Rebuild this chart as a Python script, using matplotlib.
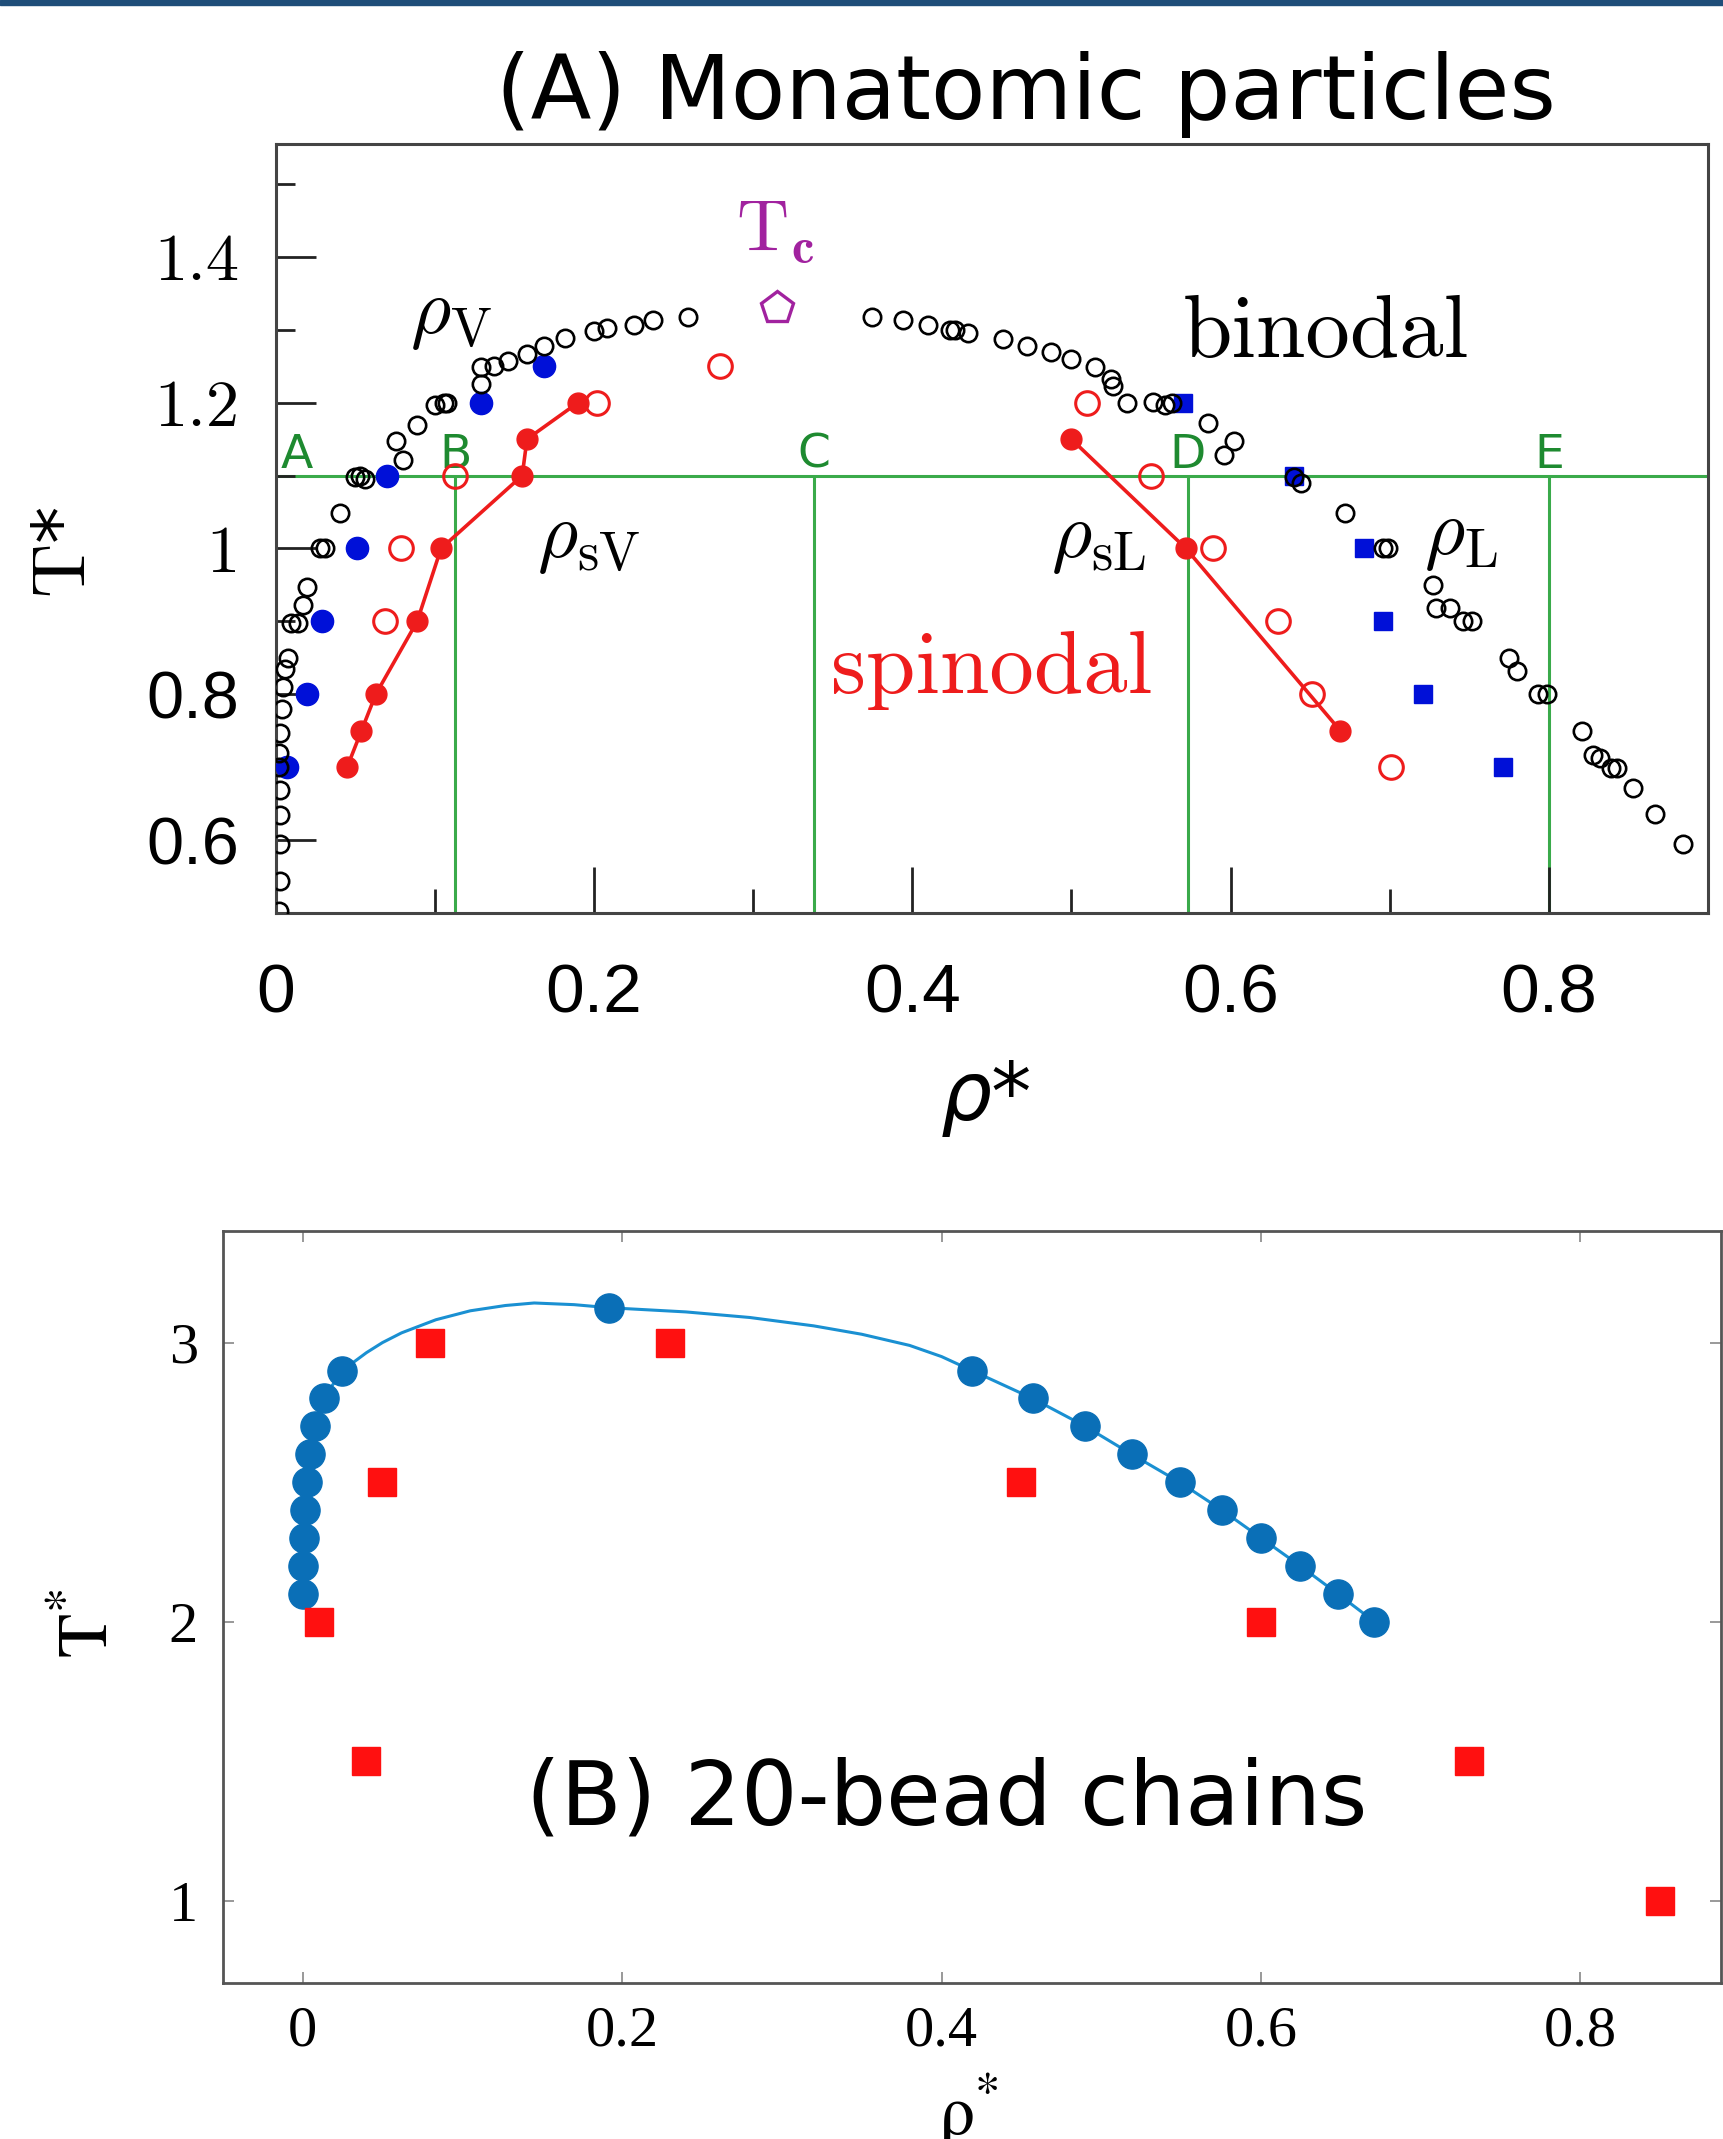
import matplotlib
matplotlib.use("Agg")
import matplotlib.pyplot as plt
from matplotlib.patches import Rectangle

# ---------------- Panel A: monatomic particles ----------------
# binodal (open black circles)
bin_rho = [0.002, 0.003, 0.003, 0.003, 0.003, 0.002, 0.002, 0.003, 0.004, 0.005, 0.006,
           0.008, 0.010, 0.014, 0.017, 0.020, 0.028, 0.031, 0.0405, 0.050, 0.053, 0.056,
           0.076, 0.080, 0.089, 0.100, 0.106, 0.108, 0.129, 0.129, 0.137, 0.146, 0.158,
           0.169, 0.182, 0.200, 0.208, 0.225, 0.237, 0.259,
           0.375, 0.394, 0.410, 0.424, 0.427, 0.435, 0.457, 0.472, 0.487, 0.500, 0.515,
           0.525, 0.526, 0.535, 0.551, 0.559, 0.563, 0.586, 0.602, 0.596, 0.640, 0.644,
           0.672, 0.696, 0.699, 0.727, 0.729, 0.738, 0.746, 0.752, 0.775, 0.780, 0.793,
           0.799, 0.821, 0.828, 0.832, 0.839, 0.843, 0.853, 0.867, 0.884]
bin_T = [0.503, 0.544, 0.594, 0.635, 0.668, 0.700, 0.720, 0.747, 0.780, 0.810, 0.835,
         0.850, 0.898, 0.898, 0.922, 0.947, 1.000, 1.000, 1.048, 1.098, 1.100, 1.096,
         1.147, 1.122, 1.170, 1.197, 1.200, 1.200, 1.226, 1.249, 1.251, 1.257, 1.267,
         1.278, 1.289, 1.298, 1.303, 1.307, 1.313, 1.318,
         1.318, 1.314, 1.307, 1.300, 1.300, 1.296, 1.287, 1.278, 1.269, 1.260, 1.249,
         1.233, 1.223, 1.199, 1.201, 1.197, 1.200, 1.172, 1.148, 1.128, 1.098, 1.090,
         1.048, 1.000, 1.000, 0.950, 0.919, 0.919, 0.900, 0.900, 0.850, 0.832, 0.800,
         0.800, 0.750, 0.717, 0.713, 0.699, 0.699, 0.672, 0.636, 0.594]

# spinodal, vapour side (filled red, joined)
sv_rho = [0.045, 0.054, 0.063, 0.089, 0.104, 0.155, 0.158, 0.190]
sv_T = [0.70, 0.75, 0.80, 0.90, 1.00, 1.10, 1.15, 1.20]
# spinodal, liquid side (filled red, joined)
sl_rho = [0.500, 0.572, 0.669]
sl_T = [1.15, 1.00, 0.75]
# open red circles
ro_rho = [0.069, 0.079, 0.113, 0.202, 0.279, 0.510, 0.550, 0.589, 0.630, 0.651, 0.701]
ro_T = [0.90, 1.00, 1.10, 1.20, 1.25, 1.20, 1.10, 1.00, 0.90, 0.80, 0.70]
# blue filled circles (vapour) and squares (liquid)
bv_rho = [0.007, 0.020, 0.029, 0.051, 0.070, 0.129, 0.169]
bv_T = [0.70, 0.80, 0.90, 1.00, 1.10, 1.20, 1.25]
bl_rho = [0.570, 0.640, 0.684, 0.696, 0.721, 0.771]
bl_T = [1.20, 1.10, 1.00, 0.90, 0.80, 0.70]
# critical point
tc_rho = [0.315]
tc_T = [1.33]
# state points A-E on the T* = 1.1 isotherm
state_names = ["A", "B", "C", "D", "E"]
state_rho = [0.0, 0.113, 0.3385, 0.573, 0.800]
state_T = 1.1

# ---------------- Panel B: 20-bead chains ----------------
chain_rho = [0.000, 0.000, 0.001, 0.0015, 0.0026, 0.0044, 0.008, 0.0133, 0.025, 0.192,
             0.419, 0.457, 0.490, 0.519, 0.549, 0.5755, 0.600, 0.6245, 0.648, 0.671]
chain_T = [2.1, 2.2, 2.3, 2.4, 2.5, 2.6, 2.7, 2.8, 2.9, 3.125,
           2.9, 2.8, 2.7, 2.6, 2.5, 2.4, 2.3, 2.2, 2.1, 2.0]
# fitted curve
fit_rho = [0.000, 0.000, 0.001, 0.0015, 0.0026, 0.0044, 0.008, 0.0133, 0.019, 0.025,
           0.032, 0.040, 0.050, 0.062, 0.0835, 0.105, 0.127, 0.145, 0.170, 0.192,
           0.240, 0.280, 0.320, 0.350, 0.380, 0.400, 0.419, 0.457, 0.490, 0.519,
           0.549, 0.5755, 0.600, 0.6245, 0.648, 0.671]
fit_T = [2.1, 2.2, 2.3, 2.4, 2.5, 2.6, 2.7, 2.8, 2.85, 2.89,
         2.93, 2.964, 3.0, 3.035, 3.082, 3.114, 3.133, 3.142, 3.136, 3.125,
         3.11, 3.09, 3.06, 3.03, 2.99, 2.95, 2.9, 2.8, 2.7, 2.6,
         2.5, 2.4, 2.3, 2.2, 2.1, 2.0]
sq_rho = [0.010, 0.040, 0.050, 0.080, 0.230, 0.450, 0.600, 0.730, 0.850]
sq_T = [2.0, 1.5, 2.5, 3.0, 3.0, 2.5, 2.0, 1.5, 1.0]

GREEN_LINE = "#3aaa4a"
GREEN_TXT = "#1e8a30"
RED = "#ee1c1c"
BLUE = "#0010d8"

fig = plt.figure(figsize=(17.23, 21.39), dpi=100)
fig.add_artist(Rectangle((0, 1 - 5 / 2139), 1, 5 / 2139, color="#1f4e79",
                         transform=fig.transFigure))

# ---- Panel A ----
ax = fig.add_axes([0.1599, 0.5732, 0.8314, 0.3595])
ax.set_xlim(0, 0.9)
ax.set_ylim(0.5, 1.555)

ax.axhline(state_T, color=GREEN_LINE, lw=2.2, zorder=1)
ax.vlines(state_rho[1:], 0.5, state_T, color=GREEN_LINE, lw=2.2, zorder=1)
for name, r in zip(state_names, state_rho):
    xr = r + 0.0134 if name == "A" else r
    ax.text(xr, 1.128, name, color=GREEN_TXT, fontsize=34, ha="center", va="center",
            zorder=2)

ax.plot(sv_rho, sv_T, "-o", color=RED, lw=2.6, ms=15, zorder=4)
ax.plot(sl_rho, sl_T, "-o", color=RED, lw=2.6, ms=15, zorder=4)
ax.plot(ro_rho, ro_T, "o", mfc="none", mec=RED, mew=2.2, ms=17, zorder=4)
ax.plot(bv_rho, bv_T, "o", color=BLUE, ms=16, zorder=3)
ax.plot(bl_rho, bl_T, "s", color=BLUE, ms=13, zorder=3)
ax.plot(bin_rho, bin_T, "o", mfc="none", mec="black", mew=1.9, ms=12.5, zorder=5)
ax.plot(tc_rho, tc_T, "p", mfc="none", mec="#a1229f", mew=2.4, ms=24, zorder=5)

ax.text(0.314, 1.434, r"$\mathrm{T}_{\mathbf{c}}$", color="#a1229f", fontsize=52,
        ha="center", va="center", math_fontfamily="cm")
ax.text(0.11, 1.322, r"$\rho_{\mathrm{V}}$", fontsize=56, ha="center", va="center",
        math_fontfamily="cm")
ax.text(0.197, 1.014, r"$\rho_{\mathrm{sV}}$", fontsize=56, ha="center", va="center",
        math_fontfamily="cm")
ax.text(0.517, 1.014, r"$\rho_{\mathrm{sL}}$", fontsize=56, ha="center", va="center",
        math_fontfamily="cm")
ax.text(0.745, 1.018, r"$\rho_{\mathrm{L}}$", fontsize=56, ha="center", va="center",
        math_fontfamily="cm")
ax.text(0.660, 1.294, "binodal", fontsize=64, family="cmr10", ha="center", va="center")
ax.text(0.450, 0.832, "spinodal", fontsize=64, family="cmr10", color=RED,
        ha="center", va="center")

for s in ax.spines.values():
    s.set_color("#444444")
    s.set_linewidth(2.2)
ax.set_xticks([0, 0.2, 0.4, 0.6, 0.8])
ax.set_xticks([0.1, 0.3, 0.5, 0.7], minor=True)
ax.set_xticklabels(["0", "0.2", "0.4", "0.6", "0.8"], family="Liberation Sans", fontsize=50)
ax.set_yticks([0.6, 0.8, 1.0, 1.2, 1.4])
ax.set_yticks([0.7, 0.9, 1.1, 1.3, 1.5], minor=True)
ax.set_yticklabels(["0.6", "0.8", "1", "1.2", "1.4"], fontsize=48)
for lbl in ax.get_yticklabels():
    if lbl.get_text() in ("0.6", "0.8"):
        lbl.set_family("Liberation Sans")
    else:
        lbl.set_family("cmr10")
ax.tick_params(axis="x", which="major", direction="in", length=33, width=2, pad=36,
               color="#222222")
ax.tick_params(axis="x", which="minor", direction="in", length=17, width=2,
               color="#222222")
ax.tick_params(axis="y", which="major", direction="in", length=29, width=2, pad=26,
               color="#222222")
ax.tick_params(axis="y", which="minor", direction="in", length=14, width=2,
               color="#222222")

fig.text(64 / 1723, 1 - 552 / 2139, r"$\mathrm{T}$*", fontsize=54, rotation=90,
         ha="center", va="center", math_fontfamily="cm")
fig.text(986 / 1723, 1 - 1098 / 2139, "ρ*", fontsize=58, style="italic",
         ha="center", va="center")
fig.text(1026 / 1723, 1 - 95 / 2139, "(A) Monatomic particles", fontsize=64,
         ha="center", va="center")

# ---- Panel B ----
bx = fig.add_axes([0.12925, 0.07293, 0.8696, 0.35157])
bx.set_xlim(-0.05, 0.888)
bx.set_ylim(0.705, 3.40)
bx.plot(fit_rho, fit_T, "-", color="#1a90d2", lw=2.2, zorder=2)
bx.plot(chain_rho, chain_T, "o", color="#0a6fb7", ms=21, zorder=3)
bx.plot(sq_rho, sq_T, "s", color="#ff1010", ms=20, zorder=3)
for s in bx.spines.values():
    s.set_color("#555555")
    s.set_linewidth(2)
bx.set_xticks([0, 0.2, 0.4, 0.6, 0.8])
bx.set_xticklabels(["0", "0.2", "0.4", "0.6", "0.8"], family="Liberation Serif",
                   fontsize=42)
bx.set_yticks([1, 2, 3])
bx.set_yticklabels(["1", "2", "3"], family="Liberation Serif", fontsize=42)
bx.tick_params(direction="in", length=8, width=1.2, color="#888888", top=True,
               right=True)
bx.tick_params(axis="x", pad=16)
bx.tick_params(axis="y", pad=18)

fig.text(88 / 1723, 1 - 1623 / 2139, r"$\mathrm{T}^{*}$", fontsize=52, rotation=90,
         ha="center", va="center", math_fontfamily="stix")
fig.text(968 / 1723, 1 - 2072 / 2139, r"$\mathrm{\rho}^{*}$", fontsize=52,
         ha="center", va="top", math_fontfamily="stix")
fig.text(947 / 1723, 1 - 1800 / 2139, "(B) 20-bead chains", fontsize=64,
         ha="center", va="center")

fig.savefig("out.png", dpi=100)
